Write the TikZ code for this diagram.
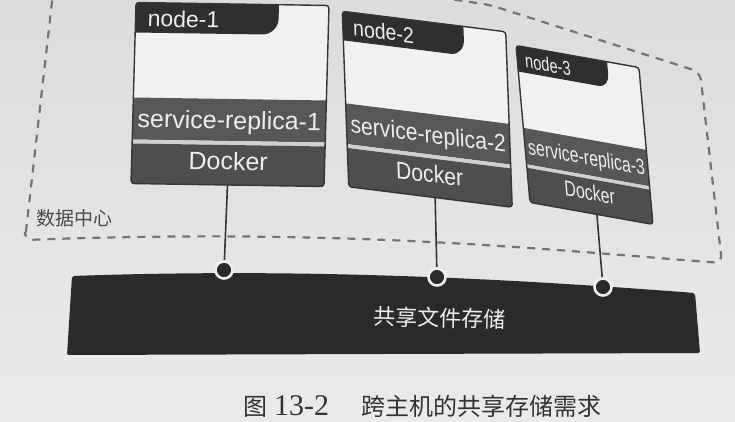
\documentclass[tikz,border=0pt]{standalone}
\usepackage{fontspec}
\setmainfont{Liberation Sans}
\newfontfamily\cjkfont{Noto Sans CJK SC}
\newfontfamily\numfont{Liberation Serif}
\definecolor{papertop}{HTML}{DCDCDC}
\definecolor{paperbot}{HTML}{EAEAEA}
\definecolor{boxwhite}{HTML}{F1F1F1}
\definecolor{tabdark}{HTML}{2F2F2F}
\definecolor{svcband}{HTML}{575757}
\definecolor{dockband}{HTML}{4E4E4E}
\definecolor{sepline}{HTML}{D0D0D0}
\definecolor{boxedge}{HTML}{353535}
\definecolor{bandtext}{HTML}{EDEDED}
\definecolor{bardark}{HTML}{2A2A2A}
\definecolor{dashgray}{HTML}{747474}
\definecolor{labelgray}{HTML}{4A4A4A}
\definecolor{ringwhite}{HTML}{EFEFEF}
\tikzset{
  boxborder/.style={draw=boxedge, line width=1.4pt, rounded corners=3pt},
  boxtext/.style={text=bandtext, inner sep=0pt, anchor=base, font=\fontsize{25}{30}\selectfont},
  tabtext/.style={text=bandtext, inner sep=0pt, anchor=base west, font=\fontsize{23}{28}\selectfont},
  dcregion/.style={draw=dashgray, line width=2.2pt, dash pattern=on 8pt off 7pt, rounded corners=8pt},
  conn/.style={draw=boxedge, line width=1.6pt},
  port/.style={circle, fill=bardark, draw=ringwhite, line width=2.6pt, minimum size=17pt, inner sep=0pt},
  bartext/.style={text=bandtext, inner sep=0pt, font=\cjkfont\fontsize{22}{26}\selectfont},
  dclabel/.style={text=labelgray, inner sep=0pt, font=\cjkfont\fontsize{19}{22}\selectfont},
  captext/.style={text=black!80, inner sep=0pt, anchor=base west, font=\cjkfont\fontsize{24}{28}\selectfont},
}
% #1 name, #2 cm matrix, #3 tab label, #4 replica label, #5 u of connector
\newcommand\hostbox[5]{%
\begin{scope}[cm={#2}, transform shape]
  \begin{scope}
    \clip[rounded corners=3pt] (0,0) rectangle (193,-181);
    \fill[boxwhite] (0,0) rectangle (193,-181);
    \fill[tabdark] (0,0) -- (143,0) -- (143,-14) arc[start angle=0,end angle=-90,radius=16] -- (0,-30) -- cycle;
    \fill[svcband] (0,-95) rectangle (193,-137);
    \fill[sepline] (0,-137) rectangle (193,-141);
    \fill[dockband] (0,-141) rectangle (193,-181);
  \end{scope}
  \path[boxborder] (0,0) rectangle (193,-181);
  \node[tabtext] (#1-lbl) at (12,-24) {#3};
  \node[boxtext] (#1-svc) at (96.5,-125) {#4};
  \node[boxtext] (#1-dk) at (96.5,-166) {Docker};
  \coordinate (#1) at (96.5,-90);
  \coordinate (#1-bot) at (#5,-181);
\end{scope}}
\begin{document}
\begin{tikzpicture}[x=1pt,y=1pt]
  \useasboundingbox (0,0) rectangle (735,-422);
  \shade[top color=papertop, bottom color=paperbot] (0,0) rectangle (735,-422);
  % data centre region
  \path[dcregion] (25,-240) -- (59,60) -- (490,-5) -- (700,-72) -- (722,-263)
     .. controls (550,-250) and (350,-228) .. (25,-240) -- cycle;
  \node[dclabel] (dc) at (74,-218) {数据中心};
  % hosts
  \hostbox{n1}{1,-0.0155,0.0276,1,(136,-2.5)}{node-1}{service-replica-1}{96.5}
  \hostbox{n2}{0.847,-0.1062,-0.0359,0.9696,(342.25,-11.25)}{node-2}{service-replica-2}{102}
  \hostbox{n3}{0.637,-0.114,-0.0773,0.867,(516,-45.5)}{node-3}{service-replica-3}{105}
  % shared storage bar
  \fill[bardark, rounded corners=2pt] (72,-276) .. controls (300,-268) and (500,-278) .. (695,-293)
     -- (700,-353) -- (67,-355) -- cycle;
  \node[bartext, rotate=-1.5] (store) at (440,-318) {共享文件存储};
  % ports
  \node[port] (d1) at (224,-270) {};
  \node[port] (d2) at (437,-277) {};
  \node[port] (d3) at (603,-287) {};
  \draw[conn] (n1-bot) -- (d1);
  \draw[conn] (n2-bot) -- (d2);
  \draw[conn] (n3-bot) -- (d3);
  % caption
  \node[captext] (cap) at (243,-415) {图\hspace{7pt}{\numfont\fontsize{30}{34}\selectfont 13-2}\hspace{32pt}跨主机的共享存储需求};
\end{tikzpicture}
\end{document}
